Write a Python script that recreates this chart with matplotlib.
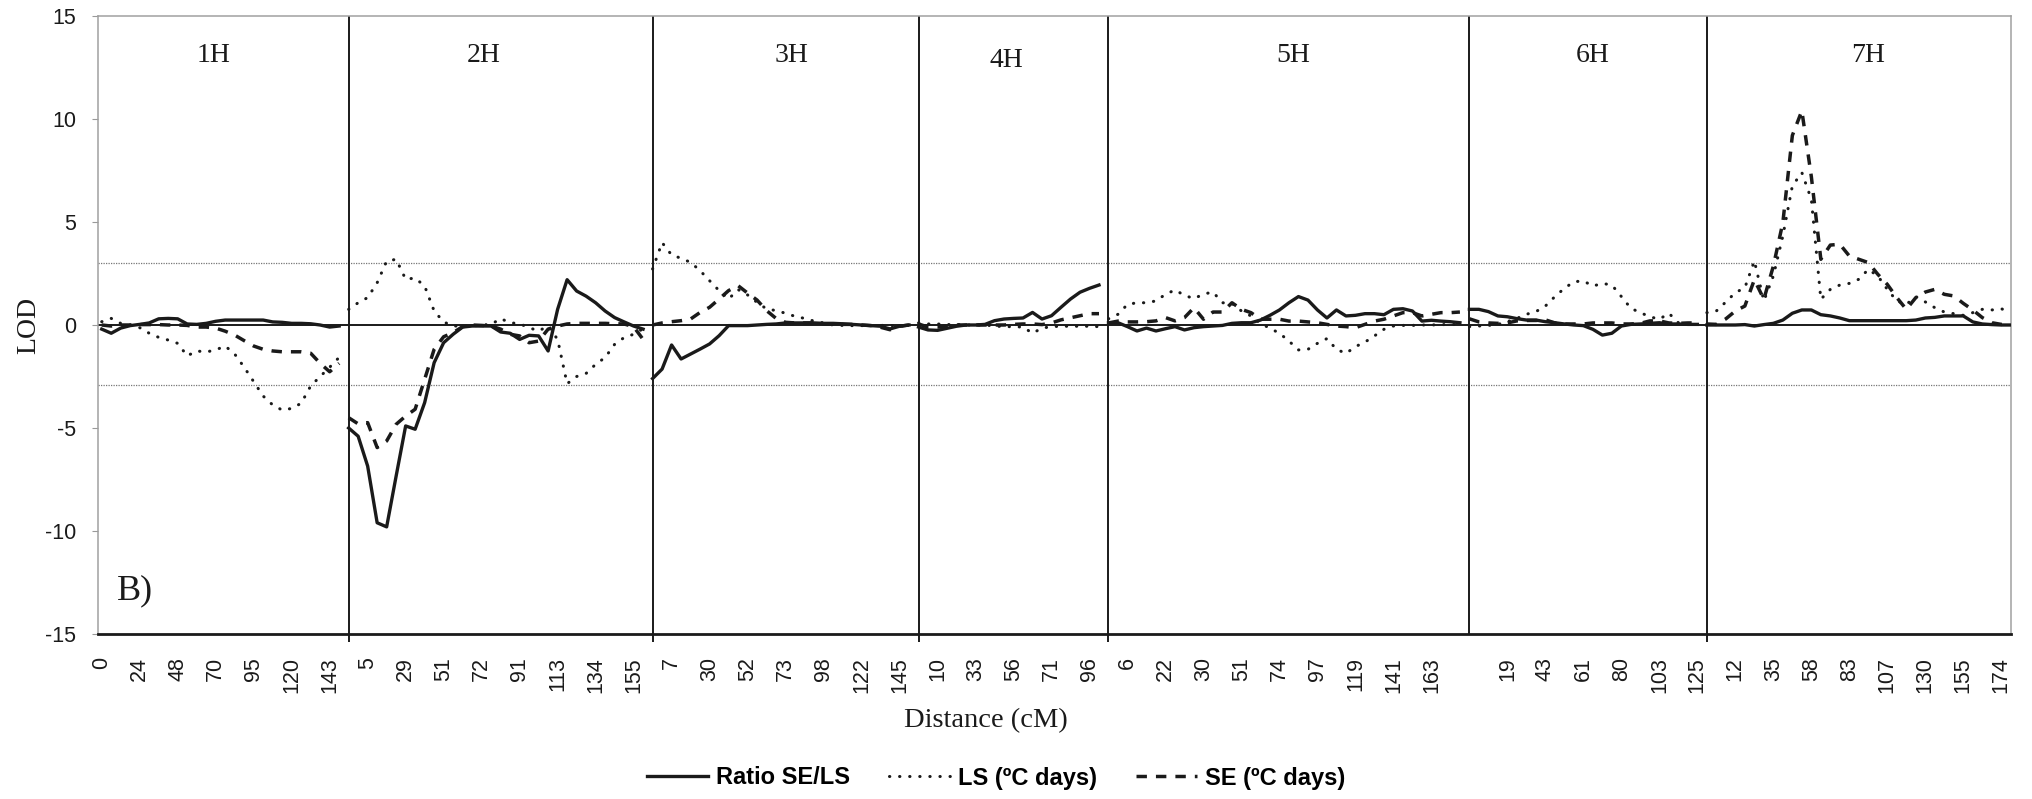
import numpy as np
import matplotlib
matplotlib.use('Agg')
import matplotlib.pyplot as plt
from matplotlib import font_manager as fm
from matplotlib.lines import Line2D

plt.rcParams['axes.unicode_minus'] = False

# ---------------- data (LOD per marker) ----------------
CHROMS = ['1H', '2H', '3H', '4H', '5H', '6H', '7H']

TICKS_1H = ['0', '24', '48', '70', '95', '120', '143']
TICKS_2H = ['5', '29', '51', '72', '91', '113', '134', '155']
TICKS_3H = ['7', '30', '52', '73', '98', '122', '145']
TICKS_4H = ['10', '33', '56', '71', '96']
TICKS_5H = ['6', '22', '30', '51', '74', '97', '119', '141', '163']
TICKS_6H = ['', '19', '43', '61', '80', '103', '125']
TICKS_7H = ['12', '35', '58', '83', '107', '130', '155', '174']

RATIO_1H = [-0.2, -0.4, -0.15, -0.03, 0.03, 0.1, 0.3, 0.32, 0.3, 0.05, 0.03, 0.08, 0.18,
            0.24, 0.24, 0.24, 0.24, 0.24, 0.15, 0.13, 0.08, 0.08, 0.06, 0.0, -0.1, -0.05]
LS_1H = [0.16, 0.32, 0.08, 0.0, -0.13, -0.4, -0.6, -0.73, -0.89, -1.5, -1.26, -1.31, -1.21,
         -1.02, -1.41, -2.05, -2.75, -3.45, -3.88, -4.13, -4.05, -3.8, -2.96, -2.5, -2.05, -1.57]
SE_1H = [0.0, -0.05, 0.0, 0.0, 0.02, 0.02, 0.02, 0.0, 0.0, -0.02, -0.1, -0.1, -0.15,
         -0.3, -0.49, -0.76, -1.02, -1.18, -1.26, -1.3, -1.3, -1.3, -1.37, -1.86, -2.27, -1.86]

RATIO_2H = [-5.0, -5.4, -6.85, -9.6, -9.8, -7.33, -4.9, -5.06, -3.77, -1.83, -0.86, -0.45,
            -0.1, -0.05, -0.05, -0.05, -0.34, -0.4, -0.7, -0.5, -0.53, -1.26, 0.76, 2.2,
            1.65, 1.4, 1.08, 0.68, 0.36, 0.15, -0.05, -0.2]
LS_2H = [0.76, 1.08, 1.33, 2.05, 3.1, 3.19, 2.22, 2.28, 1.89, 0.68, 0.15, -0.05, -0.05,
         -0.05, 0.0, 0.03, 0.31, 0.11, 0.06, -0.13, -0.29, -0.05, -0.7, -2.85, -2.5,
         -2.35, -1.91, -1.58, -0.94, -0.61, -0.45, -0.18]
SE_2H = [-4.5, -4.8, -4.74, -5.95, -5.63, -4.82, -4.42, -4.09, -2.64, -1.18, -0.57, -0.37,
         -0.08, 0.0, -0.02, -0.05, -0.2, -0.45, -0.53, -0.86, -0.78, -0.2, -0.05, 0.05,
         0.08, 0.08, 0.08, 0.08, 0.06, 0.05, -0.08, -0.7]

RATIO_3H = [-2.6, -2.14, -0.97, -1.65, -1.41, -1.17, -0.92, -0.52, -0.03, -0.03, -0.03, 0.0,
            0.03, 0.05, 0.1, 0.1, 0.1, 0.1, 0.08, 0.08, 0.06, 0.03, 0.0, -0.03, -0.06,
            -0.19, -0.06, 0.0]
LS_3H = [2.72, 4.0, 3.4, 3.24, 3.04, 2.64, 2.15, 1.67, 1.26, 1.72, 1.46, 1.1, 0.78, 0.7,
         0.57, 0.42, 0.32, 0.19, 0.1, 0.0, -0.02, -0.03, -0.03, -0.03, -0.02, -0.02, -0.05,
         -0.03]
SE_3H = [0.0, 0.1, 0.16, 0.21, 0.29, 0.61, 0.86, 1.26, 1.67, 1.91, 1.55, 1.21, 0.7, 0.32,
         0.13, 0.1, 0.1, 0.1, 0.06, 0.05, 0.03, 0.03, 0.0, -0.03, -0.11, -0.23, -0.06, 0.0]

RATIO_4H = [-0.1, -0.24, -0.26, -0.16, -0.06, 0.0, 0.0, 0.03, 0.21, 0.29, 0.32, 0.34, 0.61,
            0.29, 0.45, 0.86, 1.26, 1.59, 1.78, 1.94]
LS_4H = [0.1, 0.05, 0.05, 0.02, 0.03, 0.0, 0.0, 0.0, -0.05, -0.08, -0.08, -0.1, -0.4, -0.15,
         -0.08, -0.06, -0.06, -0.06, -0.06, -0.08]
SE_4H = [0.05, -0.1, -0.1, -0.05, 0.0, 0.0, 0.0, 0.0, 0.0, 0.0, 0.03, 0.05, 0.05, 0.02, 0.1,
         0.25, 0.35, 0.45, 0.55, 0.55]

RATIO_5H = [0.11, 0.11, -0.08, -0.29, -0.15, -0.29, -0.18, -0.08, -0.24, -0.13, -0.08, -0.05,
            -0.02, 0.08, 0.11, 0.11, 0.24, 0.47, 0.73, 1.08, 1.38, 1.21, 0.73, 0.34, 0.73,
            0.44, 0.47, 0.55, 0.55, 0.5, 0.76, 0.79, 0.68, 0.19, 0.23, 0.19, 0.16, 0.11]
LS_5H = [0.3, 0.52, 1.0, 1.08, 1.08, 1.17, 1.49, 1.7, 1.44, 1.28, 1.5, 1.6, 1.08, 1.05, 0.68,
         0.44, 0.08, -0.16, -0.4, -0.78, -1.21, -1.18, -0.89, -0.66, -1.18, -1.38, -1.05,
         -0.83, -0.53, -0.21, -0.05, -0.02, -0.02, 0.0, 0.0, 0.02, 0.02, 0.03]
SE_5H = [0.1, 0.19, 0.15, 0.15, 0.16, 0.2, 0.36, 0.2, 0.36, 0.84, 0.28, 0.63, 0.63, 1.08,
         0.76, 0.6, 0.28, 0.28, 0.28, 0.19, 0.19, 0.15, 0.11, 0.03, -0.05, -0.08, -0.13,
         0.03, 0.19, 0.28, 0.44, 0.6, 0.6, 0.44, 0.52, 0.6, 0.6, 0.63]

RATIO_6H = [0.76, 0.76, 0.65, 0.44, 0.4, 0.31, 0.24, 0.24, 0.16, 0.11, 0.05, 0.0, -0.03,
            -0.21, -0.49, -0.4, -0.05, 0.03, 0.05, 0.08, 0.11, 0.05, 0.05, 0.03, 0.03]
LS_6H = [-0.08, -0.05, -0.02, 0.03, 0.16, 0.32, 0.52, 0.65, 0.92, 1.38, 1.78, 2.1, 2.14,
         1.89, 2.02, 1.94, 1.38, 0.81, 0.6, 0.4, 0.28, 0.57, 0.11, 0.05, 0.08]
SE_6H = [0.3, 0.15, 0.1, 0.08, 0.1, 0.2, 0.22, 0.22, 0.25, 0.1, 0.05, 0.05, 0.05, 0.1, 0.1,
         0.1, 0.05, 0.05, 0.08, 0.2, 0.2, 0.1, 0.08, 0.1, 0.1]

RATIO_7H = [0.0, 0.0, 0.0, 0.0, 0.02, -0.05, 0.02, 0.08, 0.24, 0.57, 0.73, 0.73, 0.5, 0.44,
            0.34, 0.21, 0.21, 0.21, 0.21, 0.21, 0.21, 0.21, 0.24, 0.34, 0.37, 0.44, 0.44,
            0.44, 0.15, 0.05, 0.02, 0.0, 0.0]
LS_7H = [0.6, 0.68, 1.12, 1.57, 1.81, 3.11, 1.17, 2.38, 4.32, 6.75, 7.4, 6.1, 1.25, 1.73,
         1.94, 2.02, 2.22, 2.7, 2.38, 1.73, 1.17, 1.0, 1.38, 1.12, 0.84, 0.63, 0.55, 0.47,
         0.6, 0.76, 0.73, 0.79, 0.6]
SE_7H = [0.05, 0.03, 0.3, 0.68, 0.92, 2.2, 1.25, 2.86, 4.97, 9.2, 10.4, 7.2, 3.19, 3.88,
         3.92, 3.35, 3.19, 3.03, 2.46, 1.97, 1.33, 0.76, 1.33, 1.6, 1.73, 1.49, 1.41, 1.05,
         0.73, 0.36, 0.11, 0.03, 0.0]

THRESH_UP = 3.0
THRESH_LOW = -2.9

SERIES_NAMES = ['Ratio SE/LS', 'LS (\u00baC days)', 'SE (\u00baC days)']

# ---------------- layout ----------------
W, H = 2033, 799
CATS_PER_LABEL = 4
INK = '#1a1a1a'

serif = 'Liberation Serif'
sans = 'Liberation Sans'


def pick(fams):
    for f in fams:
        try:
            fm.findfont(fm.FontProperties(family=f), fallback_to_default=False)
            return f
        except Exception:
            pass
    return 'DejaVu Sans'


narrow = pick(['Liberation Sans Narrow', 'DejaVu Sans Condensed', 'Liberation Sans'])

ratio_all = [RATIO_1H, RATIO_2H, RATIO_3H, RATIO_4H, RATIO_5H, RATIO_6H, RATIO_7H]
ls_all = [LS_1H, LS_2H, LS_3H, LS_4H, LS_5H, LS_6H, LS_7H]
se_all = [SE_1H, SE_2H, SE_3H, SE_4H, SE_5H, SE_6H, SE_7H]
ticks_all = TICKS_1H + TICKS_2H + TICKS_3H + TICKS_4H + TICKS_5H + TICKS_6H + TICKS_7H

sizes = [len(v) for v in ratio_all]
starts = np.concatenate([[0], np.cumsum(sizes)[:-1]])
ends = starts + np.array(sizes) - 1


def build(lists):
    xs, ys = [], []
    for s, v in zip(starts, lists):
        xs.extend(list(s + np.arange(len(v))))
        ys.extend(v)
        xs.append(np.nan)
        ys.append(np.nan)
    return np.array(xs, float), np.array(ys, float)


fig = plt.figure(figsize=(W / 100, H / 100), dpi=100)
ax_l, ax_r, ax_t, ax_b = 98.2, 2010.8, 16, 634
ax = fig.add_axes([ax_l / W, 1 - ax_b / H, (ax_r - ax_l) / W, (ax_b - ax_t) / H])

solid_kw = dict(color=INK, lw=2.4, ls='-', solid_joinstyle='round')
dot_kw = dict(color=INK, lw=2.2, ls=(0, (0.1, 3.2)), dash_capstyle='round')
dash_kw = dict(color=INK, lw=2.5, ls=(0, (3.0, 2.6)), dash_capstyle='butt')

x, y = build(ratio_all)
ax.plot(x, y, zorder=4, **solid_kw)
x, y = build(ls_all)
ax.plot(x, y, zorder=3, **dot_kw)
x, y = build(se_all)
ax.plot(x, y, zorder=3, **dash_kw)

# reference lines
ax.axhline(0, color=INK, lw=1.4, zorder=2)
for t in (THRESH_UP, THRESH_LOW):
    ax.axhline(t, color='#777777', lw=0.9, ls=(0, (1, 1)), zorder=1)
for s in starts[1:]:
    ax.axvline(s, color=INK, lw=1.4, zorder=2)

ax.set_xlim(-0.37, starts[-1] + sizes[-1] - 1)
ax.set_ylim(-15, 15)
ax.set_yticks(np.arange(-15, 16, 5))

ax.set_xticks(np.arange(len(ticks_all)) * CATS_PER_LABEL)
ax.set_xticklabels(ticks_all, rotation=90, fontfamily=sans, fontsize=15.5, color=INK)
ax.set_xticks(starts[1:], minor=True)
ax.tick_params(axis='x', which='major', length=0, pad=16.5)
ax.tick_params(axis='x', which='minor', length=6, width=1.4, color=INK, direction='out')
ax.tick_params(axis='y', length=4, width=0.8, color='#999999', pad=12)
for lab in ax.get_yticklabels():
    lab.set_fontfamily(sans)
    lab.set_fontsize(15.5)
    lab.set_color(INK)

for side in ('left', 'top', 'right'):
    ax.spines[side].set_color('#a0a0a0')
    ax.spines[side].set_linewidth(1.1)
ax.spines['bottom'].set_color(INK)
ax.spines['bottom'].set_linewidth(2.0)

# chromosome labels
LABEL_DX = [-0.7, -1.3, 1.1, -0.3, 1.0, 1.0, 1.0]
LABEL_Y = [13.1, 13.1, 13.1, 12.85, 13.1, 13.1, 13.1]
for name, s, e, dx, ly in zip(CHROMS, starts, ends, LABEL_DX, LABEL_Y):
    ax.text((s + e) / 2 + dx, ly, name, ha='center', va='center', fontfamily=serif,
            fontsize=20, color=INK)

ax.text(1.64, -12.9, 'B)', ha='left', va='center', fontfamily=serif, fontsize=26, color=INK)

fig.text(29 / W, 1 - 325 / H, 'LOD', rotation=90, ha='center', va='center',
         fontfamily=serif, fontsize=20, color=INK)
fig.text(986 / W, 1 - 721 / H, 'Distance (cM)', ha='center', va='center',
         fontfamily=serif, fontsize=20.5, color=INK)

# legend: scale font so that the first label is ~134 px wide
fig.canvas.draw()
r = fig.canvas.get_renderer()
probe = fig.text(0, 0, SERIES_NAMES[0], fontsize=20, fontfamily=narrow, fontweight='bold')
wpx = probe.get_window_extent(r).width
probe.remove()
leg_fs = min(21.5, 20 * 134 / wpx)
fpx = leg_fs * 100 / 72

handles = [Line2D([], [], **solid_kw), Line2D([], [], **dot_kw), Line2D([], [], **dash_kw)]
fig.legend(handles, SERIES_NAMES, loc='center', bbox_to_anchor=(996.5 / W, 1 - 778 / H),
           ncol=3, frameon=False, borderpad=0, borderaxespad=0,
           prop=fm.FontProperties(family=narrow, weight='bold', size=leg_fs),
           handlelength=61 / fpx, handletextpad=8 / fpx, columnspacing=39 / fpx)

fig.savefig('out.png', dpi=100)
